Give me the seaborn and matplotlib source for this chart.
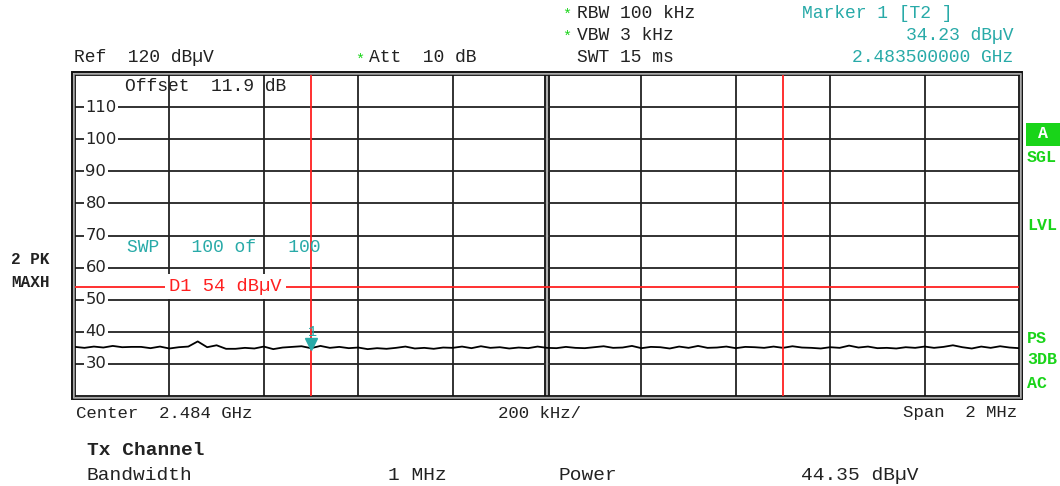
import matplotlib
matplotlib.use("Agg")
import matplotlib.pyplot as plt
import matplotlib.patches as mpatches
import matplotlib.transforms as mtransforms
import seaborn as sns
import numpy as np
import pandas as pd

# --- data ---
f_start, f_stop = 2483.0, 2485.0          # MHz (center 2.484 GHz, span 2 MHz)
y_bottom, y_top = 20, 120                 # dBuV (Ref 120 dBuV, 10 dB/div)
level_ticks = [110, 100, 90, 80, 70, 60, 50, 40, 30]
freq_grid = [2483.2, 2483.4, 2483.6, 2483.8, 2484.0, 2484.2, 2484.4, 2484.6, 2484.8]
channel_edges = [2483.5, 2484.5]          # 1 MHz Tx channel
d1_level = 54
marker_freq = 2483.5
marker_level = 34.23

trace_levels = [
    35.3, 35.0, 35.4, 35.1, 35.6, 35.2, 35.3, 35.3, 34.9, 35.4,
    34.8, 35.2, 35.4, 37.0, 35.2, 35.8, 34.7, 34.7, 35.0, 34.8,
    35.4, 34.6, 35.1, 35.3, 35.5, 34.9, 35.6, 35.0, 35.3, 34.9,
    35.1, 34.6, 34.9, 34.7, 35.0, 35.4, 34.8, 35.0, 34.7, 35.1,
    35.0, 35.4, 34.9, 35.5, 35.0, 35.2, 34.8, 35.1, 34.9, 35.4,
    35.0, 34.9, 35.3, 35.0, 34.9, 35.2, 35.5, 35.0, 35.1, 35.6,
    34.9, 35.3, 35.2, 34.8, 35.4, 35.0, 35.6, 35.0, 35.1, 35.4,
    34.9, 35.3, 35.2, 35.0, 35.4, 35.0, 35.5, 35.1, 35.0, 34.8,
    35.2, 35.0, 35.7, 35.1, 35.4, 34.9, 35.0, 34.8, 35.2, 35.0,
    35.4, 35.0, 35.3, 35.8, 35.2, 34.8, 35.4, 35.0, 35.5, 35.1,
    34.9,
]
trace_freqs = np.linspace(f_start, f_stop, len(trace_levels))

sns.set_style("white")
plt.rcParams['font.family'] = ['Liberation Mono', 'DejaVu Sans']

W, H = 1060, 486
fig = plt.figure(figsize=(W / 100, H / 100), dpi=100)

def fx(px):
    return px / W

def fy(py):
    return 1 - py / H

ax = fig.add_axes([fx(75), fy(396), fx(1019) - fx(75), fy(75) - fy(396)])

TEAL = '#28aaa8'
GREEN = '#19d419'
DARK = '#222222'
FS = 13

# grid
for f in freq_grid:
    if abs(f - 2484.0) < 1e-6:
        ax.axvline(f, color='#111111', lw=4.2, zorder=1)
        ax.axvline(f, color='#b0b0b0', lw=1.6, zorder=1.1)
    else:
        ax.axvline(f, color='#222222', lw=1.3, zorder=1)
for lv in level_ticks:
    ax.axhline(lv, color='#222222', lw=1.3, zorder=1)

# trace
df = pd.DataFrame({'freq': trace_freqs, 'level': trace_levels})
sns.lineplot(data=df, x='freq', y='level', ax=ax, color='black', lw=1.3, zorder=3)

# display / channel lines
for f in channel_edges:
    ax.axvline(f, color='#ff2020', lw=1.3, zorder=4)
ax.axhline(d1_level, color='#ff2020', lw=1.3, zorder=4)
ax.text(2483.2, d1_level, 'D1 54 dB\u00b5V', color='#ff2020', fontsize=FS + 0.5,
        ha='left', va='center', zorder=5,
        bbox=dict(facecolor='white', edgecolor='none', pad=3))

# marker 1
ax.plot([marker_freq], [marker_level + 1.9], marker='v', color=TEAL, ms=8, zorder=6)
ax.text(marker_freq + 0.003, marker_level + 5.6, '1', color=TEAL, fontsize=11,
        ha='center', va='center', zorder=7)

# level labels inside the grid
yt = mtransforms.blended_transform_factory(ax.transAxes, ax.transData)
for lv in level_ticks:
    ax.text(0.011, lv, str(lv), transform=yt, fontsize=11.8, family='DejaVu Sans',
            color=DARK, ha='left', va='center', zorder=2,
            bbox=dict(facecolor='white', edgecolor='none', pad=1.2))

ax.text(2483.105, 116.3, 'Offset  11.9 dB', color=DARK, fontsize=FS,
        ha='left', va='center', zorder=0.5)
ax.text(2483.111, 66.2, 'SWP   100 of   100', color=TEAL, fontsize=FS,
        ha='left', va='center', zorder=5)

ax.set_xlim(f_start, f_stop)
ax.set_ylim(y_bottom, y_top)
ax.set_xticks([])
ax.set_yticks([])
ax.set_xlabel('')
ax.set_ylabel('')
for s in ax.spines.values():
    s.set_color('#111111')
    s.set_linewidth(1.3)

# outer double frame
fig.patches.append(mpatches.Rectangle((fx(72), fy(399)), fx(1022) - fx(72), fy(72) - fy(399),
                                      transform=fig.transFigure, fill=False,
                                      edgecolor='#111111', lw=1.4))
fig.patches.append(mpatches.Rectangle((fx(73.5), fy(397.5)), fx(1020.5) - fx(73.5), fy(73.5) - fy(397.5),
                                      transform=fig.transFigure, fill=False,
                                      edgecolor='#999999', lw=1.2))

def txt(px, py, s, **kw):
    kw.setdefault('fontsize', FS)
    kw.setdefault('color', DARK)
    kw.setdefault('va', 'center')
    fig.text(fx(px), fy(py), s, **kw)

# header
txt(562, 15, '*', color=GREEN, fontsize=11)
txt(577, 13, 'RBW 100 kHz')
txt(562, 37, '*', color=GREEN, fontsize=11)
txt(577, 35, 'VBW 3 kHz')
txt(577, 58, 'SWT 15 ms')
txt(74, 58, 'Ref  120 dB\u00b5V')
txt(355, 60, '*', color=GREEN, fontsize=11)
txt(369, 58, 'Att  10 dB')
txt(802, 13, 'Marker 1 [T2 ]', color=TEAL)
txt(1013, 35, '34.23 dB\u00b5V', color=TEAL, ha='right')
txt(1013, 58, '2.483500000 GHz', color=TEAL, ha='right')

# left trace info
txt(30, 259, '2 PK', fontsize=11.5, weight='bold', ha='center')
txt(30, 282, 'MAXH', fontsize=11.5, weight='bold', ha='center')

# right status column
fig.patches.append(mpatches.Rectangle((fx(1026), fy(146)), fx(1060) - fx(1026), fy(123) - fy(146),
                                      transform=fig.transFigure, color=GREEN, lw=0))
txt(1043, 134, 'A', color='white', fontsize=12, weight='bold', ha='center')
for label, py in [('SGL', 157), ('LVL', 225), ('PS', 338), ('3DB', 360), ('AC', 383)]:
    txt(1027, py, label, color=GREEN, fontsize=12, weight='bold')

# bottom annotation
txt(76, 413, 'Center  2.484 GHz', fontsize=12.5)
txt(540, 413, '200 kHz/', fontsize=12.5, ha='center')
txt(1017, 413, 'Span  2 MHz', fontsize=12.5, ha='right')
txt(87, 450, 'Tx Channel', fontsize=14, weight='bold')
txt(87, 475, 'Bandwidth', fontsize=14)
txt(388, 475, '1 MHz', fontsize=14)
txt(558, 475, 'Power', fontsize=14)
txt(801, 475, '44.35 dB\u00b5V', fontsize=14)

fig.savefig('out.png', dpi=100)
